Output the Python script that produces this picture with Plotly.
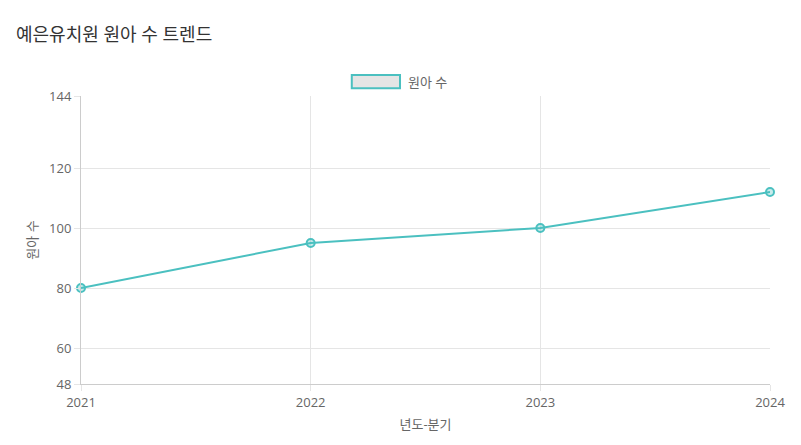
import plotly.graph_objects as go

years = ["2021", "2022", "2023", "2024"]
kids = [80, 95, 100, 112]
labels = [f"{v}명" for v in kids]
y_ticks = [48, 60, 80, 100, 120, 144]

teal = "#4bc0c0"
font = "Open Sans, Noto Sans CJK KR"

fig = go.Figure()
fig.add_scatter(
    x=years, y=kids, mode="lines+markers", name="원아 수",
    line=dict(color=teal, width=2),
    marker=dict(size=8, color="rgba(75,192,192,0.3)", line=dict(color=teal, width=2)),
    cliponaxis=False, showlegend=False,
)
for x, y, t in zip(years, kids, labels):
    fig.add_annotation(x=x, y=y, text=t, showarrow=False, yshift=24,
                       font=dict(size=13, color="#666"))

# legend drawn by hand (box style)
fig.add_shape(type="rect", xref="paper", yref="paper", x0=0.393, x1=0.463, y0=1.027, y1=1.073,
              line=dict(color=teal, width=2), fillcolor="#e5e5e5")
fig.add_annotation(text="원아 수", xref="paper", yref="paper", x=0.472, y=1.05,
                   xanchor="left", yanchor="middle", showarrow=False,
                   font=dict(size=13, color="#666"))

fig.update_layout(
    width=801, height=445,
    margin=dict(l=73, r=39, t=88, b=69, autoexpand=False),
    plot_bgcolor="white", paper_bgcolor="white",
    font=dict(family=font, color="#666", size=13),
    title=dict(text="예은유치원 원아 수 트렌드", x=0.01, y=0.955, xanchor="left",
               font=dict(size=18, color="#333")),
    xaxis=dict(title=dict(text="년도-분기", standoff=10, font=dict(size=13)), range=[0, 3],
               type="category", automargin=False,
               showgrid=True, gridcolor="#e5e5e5", showline=True, linecolor="#ccc",
               ticks="outside", tickcolor="#e5e5e5", ticklen=6, zeroline=False),
    yaxis=dict(title=dict(text="원아 수", standoff=8, font=dict(size=13)), range=[48, 144],
               tickvals=y_ticks, automargin=False,
               showgrid=True, gridcolor="#e5e5e5", showline=True, linecolor="#ccc",
               ticks="outside", tickcolor="#e5e5e5", ticklen=6, zeroline=False),
)

fig.write_html("out.html")
